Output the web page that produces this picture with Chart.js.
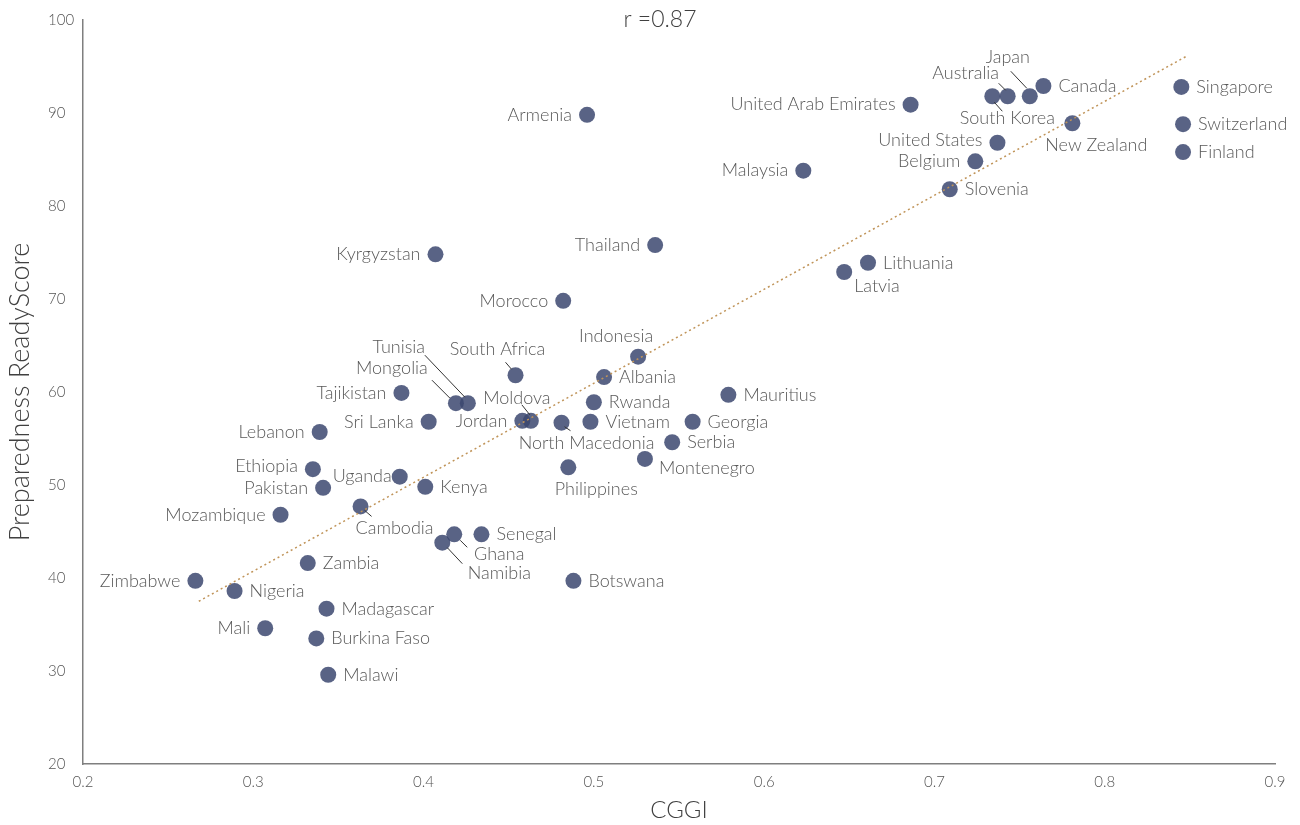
<!DOCTYPE html>
<html>
<head>
<meta charset="utf-8">
<script src="https://cdn.jsdelivr.net/npm/chart.js@4"></script>
<style>
  html, body { margin: 0; padding: 0; background: #fff; }
</style>
</head>
<body>
<canvas id="myChart" width="1300" height="825"></canvas>
<script>
// data
var countries = ['Singapore', 'Switzerland', 'Finland', 'Canada', 'Japan', 'Australia', 'South Korea',
  'New Zealand', 'United States', 'Belgium', 'Slovenia', 'United Arab Emirates', 'Malaysia', 'Armenia',
  'Thailand', 'Kyrgyzstan', 'Lithuania', 'Latvia', 'Morocco', 'Indonesia', 'South Africa', 'Albania',
  'Tajikistan', 'Mongolia', 'Tunisia', 'Rwanda', 'Mauritius', 'Sri Lanka', 'Jordan', 'Moldova',
  'North Macedonia', 'Vietnam', 'Georgia', 'Serbia', 'Montenegro', 'Philippines', 'Lebanon', 'Ethiopia',
  'Uganda', 'Kenya', 'Pakistan', 'Cambodia', 'Mozambique', 'Senegal', 'Ghana', 'Namibia', 'Zambia',
  'Zimbabwe', 'Botswana', 'Nigeria', 'Madagascar', 'Mali', 'Burkina Faso', 'Malawi'];
var cggi = [0.845, 0.846, 0.846, 0.764, 0.756, 0.743, 0.734,
  0.781, 0.737, 0.724, 0.709, 0.686, 0.623, 0.496,
  0.536, 0.407, 0.661, 0.647, 0.482, 0.526, 0.454, 0.506,
  0.387, 0.419, 0.426, 0.500, 0.579, 0.403, 0.458, 0.463,
  0.481, 0.498, 0.558, 0.546, 0.530, 0.485, 0.339, 0.335,
  0.386, 0.401, 0.341, 0.363, 0.316, 0.434, 0.418, 0.411, 0.332,
  0.266, 0.488, 0.289, 0.343, 0.307, 0.337, 0.344];
var readyScore = [92.8, 88.8, 85.8, 92.9, 91.8, 91.8, 91.8,
  88.9, 86.8, 84.8, 81.8, 90.9, 83.8, 89.8,
  75.8, 74.8, 73.9, 72.9, 69.8, 63.8, 61.8, 61.6,
  59.9, 58.8, 58.8, 58.9, 59.7, 56.8, 56.9, 56.9,
  56.7, 56.8, 56.8, 54.6, 52.8, 51.9, 55.7, 51.7,
  50.9, 49.8, 49.7, 47.7, 46.8, 44.7, 44.7, 43.8, 41.6,
  39.7, 39.7, 38.6, 36.7, 34.6, 33.5, 29.6];
var trendX = [0.268, 0.848];
var trendY = [37.5, 96.1];
var xTicks = [0.2, 0.3, 0.4, 0.5, 0.6, 0.7, 0.8, 0.9];
var yTicks = [20, 30, 40, 50, 60, 70, 80, 90, 100];
var rText = 'r =0.87';
var xTitle = 'CGGI';
var yTitle = 'Preparedness ReadyScore';

// where each label sits relative to its dot (default: right of it)
var labelPos = {
  'Japan': { dx: -22, dy: -39, align: 'center', line: [-19, -25, -3, -8] },
  'Australia': { dx: -42, dy: -23, align: 'center', line: [-9, -13, -2, -6] },
  'South Korea': { dx: 15, dy: 22, align: 'center', line: [2, 6, 10, 15] },
  'New Zealand': { dx: 24, dy: 22, align: 'center' },
  'United States': { side: 'l', dy: -3 },
  'Belgium': { side: 'l' },
  'United Arab Emirates': { side: 'l' },
  'Malaysia': { side: 'l' },
  'Armenia': { side: 'l' },
  'Thailand': { side: 'l' },
  'Kyrgyzstan': { side: 'l' },
  'Latvia': { dx: 10, dy: 14, align: 'left' },
  'Morocco': { side: 'l' },
  'Indonesia': { dx: -22, dy: -20, align: 'center' },
  'South Africa': { dx: -18, dy: -26, align: 'center', line: [-10, -13, -4, -6] },
  'Tajikistan': { side: 'l' },
  'Mongolia': { dx: -64, dy: -35, align: 'center', line: [-24, -23, -6, -5] },
  'Tunisia': { dx: -69, dy: -56, align: 'center', line: [-43, -48, -3, -6] },
  'Moldova': { dx: -14, dy: -23, align: 'center', line: [-9, -16, -1, -6] },
  'Jordan': { side: 'l' },
  'Sri Lanka': { side: 'l' },
  'North Macedonia': { dx: 25, dy: 20, align: 'center', line: [3, 4, 9, 8] },
  'Montenegro': { dx: 14, dy: 9, align: 'left' },
  'Philippines': { dx: 28, dy: 22, align: 'center' },
  'Lebanon': { side: 'l' },
  'Ethiopia': { side: 'l', dy: -3 },
  'Uganda': { side: 'l', dx: -8 },
  'Pakistan': { side: 'l' },
  'Mozambique': { side: 'l' },
  'Cambodia': { dx: 34, dy: 22, align: 'center', line: [4, 4, 11, 10] },
  'Ghana': { dx: 45, dy: 20, align: 'center', line: [6, 6, 13, 13] },
  'Namibia': { dx: 57, dy: 31, align: 'center', line: [5, 5, 20, 21] },
  'Zimbabwe': { side: 'l' },
  'Mali': { side: 'l' }
};

var FONT = 'Lato, "Open Sans", sans-serif';

var labelPlugin = {
  id: 'pointLabels',
  afterDatasetsDraw: function(chart) {
    var ctx = chart.ctx;
    var pts = chart.getDatasetMeta(0).data;
    ctx.save();
    ctx.font = '300 18px ' + FONT;
    ctx.fillStyle = '#595959';
    ctx.textBaseline = 'middle';
    ctx.strokeStyle = '#333';
    ctx.lineWidth = 1;
    countries.forEach(function(name, i) {
      var p = pts[i];
      var lp = labelPos[name] || {};
      var x, y = p.y + (lp.dy || 0);
      if (lp.align) {
        ctx.textAlign = lp.align;
        x = p.x + lp.dx;
      } else if (lp.side === 'l') {
        ctx.textAlign = 'right';
        x = p.x + (lp.dx || -15);
      } else {
        ctx.textAlign = 'left';
        x = p.x + (lp.dx || 15);
      }
      ctx.fillText(name, x, y);
      if (lp.line) {
        ctx.beginPath();
        ctx.moveTo(p.x + lp.line[0], p.y + lp.line[1]);
        ctx.lineTo(p.x + lp.line[2], p.y + lp.line[3]);
        ctx.stroke();
      }
    });
    // r value and y title
    ctx.textAlign = 'center';
    ctx.fillStyle = '#404040';
    ctx.font = '300 23px ' + FONT;
    ctx.fillText(rText, 660, 20);
    ctx.translate(20, 392);
    ctx.rotate(-Math.PI / 2);
    ctx.font = '300 27px ' + FONT;
    ctx.fillText(yTitle, 0, 0);
    ctx.restore();
  }
};

var points = countries.map(function(c, i) { return { x: cggi[i], y: readyScore[i] }; });
var trend = trendX.map(function(v, i) { return { x: v, y: trendY[i] }; });

var ctx = document.getElementById('myChart');
var myChart = new Chart(ctx, {
  type: 'scatter',
  data: {
    datasets: [
      {
        label: 'Countries',
        data: points,
        backgroundColor: 'rgba(60,72,112,0.85)',
        borderWidth: 0,
        pointRadius: 8,
        order: 2
      },
      {
        type: 'line',
        label: 'Trend',
        data: trend,
        borderColor: '#c09459',
        borderWidth: 1.5,
        borderDash: [2, 3],
        pointRadius: 0,
        fill: false,
        order: 1
      }
    ]
  },
  options: {
    responsive: false,
    animation: false,
    layout: { padding: { left: 48, right: 25, top: 20, bottom: 0 } },
    plugins: { legend: { display: false }, tooltip: { enabled: false } },
    scales: {
      x: {
        type: 'linear',
        min: 0.2,
        max: 0.9,
        afterBuildTicks: function(s) { s.ticks = xTicks.map(function(v) { return { value: v }; }); },
        afterFit: function(s) { s.height = 61; },
        grid: { display: false, drawTicks: false },
        border: { display: true, color: '#7f7f7f', width: 1.5 },
        ticks: {
          padding: 9,
          color: '#555',
          font: { family: FONT, size: 15, weight: 300 },
          callback: function(v) { return v.toFixed(1); }
        },
        title: { display: true, text: xTitle, color: '#404040', font: { family: FONT, size: 24, weight: 300 }, padding: 0 }
      },
      y: {
        type: 'linear',
        min: 20,
        max: 100,
        afterBuildTicks: function(s) { s.ticks = yTicks.map(function(v) { return { value: v }; }); },
        afterFit: function(s) { s.width = 35; },
        grid: { display: false, drawTicks: false },
        border: { display: true, color: '#7f7f7f', width: 1.5 },
        ticks: {
          crossAlign: 'far',
          color: '#555',
          font: { family: FONT, size: 15, weight: 300 },
          callback: function(v) { return String(v); }
        }
      }
    }
  },
  plugins: [labelPlugin]
});
</script>
</body>
</html>
